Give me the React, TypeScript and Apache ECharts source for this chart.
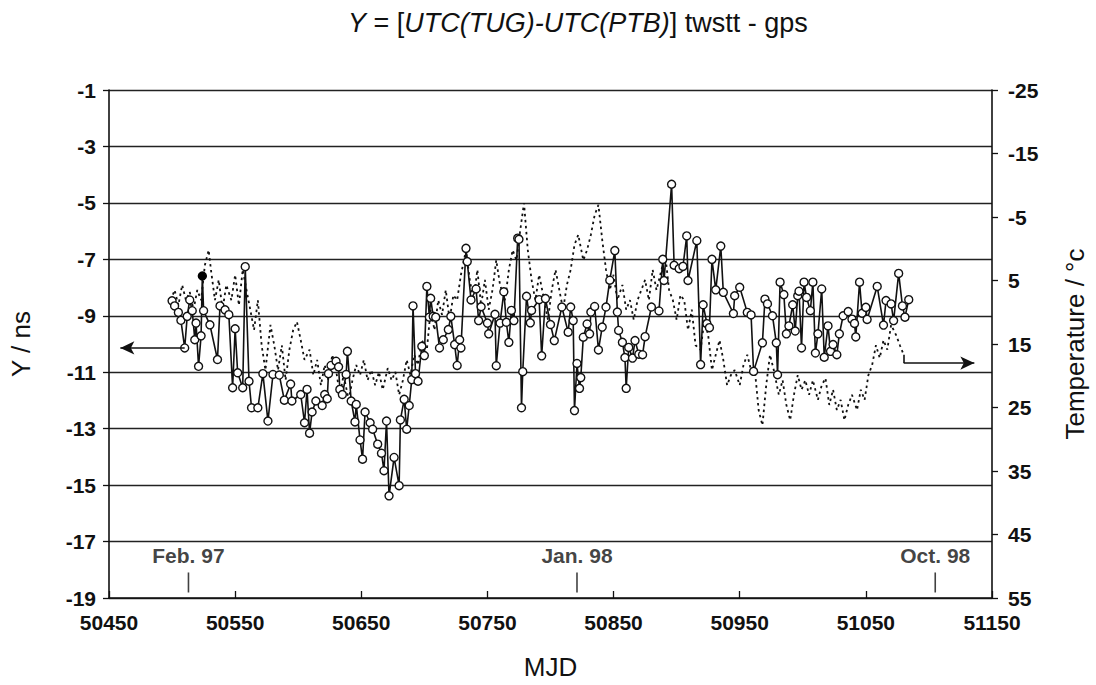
import React, { useEffect, useRef } from 'react';
import * as echarts from 'echarts';

// ---- axis ticks ----
const xTickValues = [50450, 50550, 50650, 50750, 50850, 50950, 51050, 51150];
const yTickValues = [-1, -3, -5, -7, -9, -11, -13, -15, -17, -19];
const tempTickValues = [-25, -15, -5, 5, 15, 25, 35, 45, 55];

// ---- Y = [UTC(TUG)-UTC(PTB)] twstt - gps (ns) ----
const mainMjd = [
  50500, 50502, 50505, 50507, 50510, 50512, 50514, 50516, 50518, 50519,
  50521, 50523, 50524, 50525, 50530, 50536, 50538, 50542, 50545, 50548,
  50550, 50552, 50556, 50558, 50561, 50563, 50568, 50572, 50576, 50580,
  50585, 50589, 50594, 50595, 50602, 50605, 50607, 50609, 50611, 50614,
  50619, 50621, 50623, 50624, 50626, 50630, 50632, 50633, 50635, 50638,
  50639, 50642, 50645, 50646, 50649, 50651, 50653, 50657, 50659, 50663,
  50666, 50668, 50670, 50672, 50676, 50680, 50681, 50684, 50686, 50688,
  50690, 50691, 50693, 50695, 50698, 50700, 50702, 50704, 50705, 50707,
  50709, 50712, 50715, 50719, 50721, 50724, 50726, 50728, 50729, 50733,
  50734, 50737, 50741, 50743, 50745, 50750, 50751, 50756, 50757, 50760,
  50763, 50765, 50767, 50769, 50771, 50774, 50775, 50777, 50778, 50781,
  50784, 50785, 50791, 50793, 50796, 50800, 50803, 50809, 50814, 50816,
  50818, 50819, 50821, 50823, 50824, 50826, 50829, 50831, 50832, 50835,
  50838, 50841, 50844, 50847, 50851, 50853, 50854, 50857, 50859, 50860,
  50862, 50865, 50867, 50870, 50873, 50875, 50880, 50886, 50889, 50890,
  50896, 50898, 50902, 50905, 50908, 50909, 50916, 50919, 50921, 50924,
  50926, 50928, 50931, 50935, 50937, 50945, 50946, 50950, 50956, 50959,
  50961, 50968, 50970, 50972, 50976, 50979, 50980, 50982, 50985, 50987,
  50989, 50992, 50994, 50996, 50997, 50999, 51001, 51003, 51006, 51008,
  51010, 51012, 51015, 51017, 51020, 51022, 51024, 51027, 51029, 51032,
  51036, 51039, 51041, 51042, 51045, 51047, 51050, 51051, 51059, 51064,
  51066, 51070, 51072, 51076, 51079, 51081, 51084,
];
const mainY = [
  -8.47, -8.65, -8.88, -9.16, -10.14, -9.02, -8.44, -8.82, -9.85, -9.26,
  -10.79, -9.71, -7.59, -8.82, -9.32, -10.55, -8.65, -8.79, -8.96, -11.55,
  -9.46, -11.02, -11.55, -7.26, -11.32, -12.26, -12.26, -11.05, -12.73, -11.08,
  -11.1, -11.99, -11.42, -12.02, -11.79, -12.79, -11.61, -13.16, -12.41, -12.02,
  -12.18, -11.79, -11.94, -11.05, -10.76, -10.61, -10.81, -11.61, -11.79, -11.08,
  -10.26, -12.02, -12.76, -12.14, -13.4, -14.08, -12.41, -12.79, -13.02, -13.55,
  -13.87, -14.49, -12.73, -15.38, -14.02, -15.02, -12.69, -11.96, -13.02, -12.18,
  -11.26, -8.65, -11.05, -11.32, -10.08, -10.41, -7.96, -9.05, -8.38, -9.02,
  -9.05, -10.14, -9.85, -9.49, -9.02, -10.02, -10.76, -9.85, -10.14, -6.61,
  -7.08, -8.44, -8.05, -9.17, -8.68, -9.26, -9.64, -8.95, -10.77, -9.26,
  -8.15, -9.23, -9.94, -8.81, -9.17, -6.25, -6.29, -12.26, -10.98, -8.31,
  -9.25, -8.81, -8.43, -10.42, -8.39, -9.31, -9.88, -8.69, -9.58, -8.69,
  -9.17, -12.36, -10.69, -11.57, -11.19, -9.76, -9.29, -9.64, -8.87, -8.67,
  -10.21, -9.4, -8.69, -7.74, -6.69, -8.87, -9.52, -9.94, -10.48, -11.57,
  -10.12, -10.5, -9.88, -10.36, -10.38, -9.74, -8.69, -8.83, -7.0, -7.75,
  -4.34, -7.21, -7.33, -7.25, -6.17, -7.75, -6.34, -10.73, -8.61, -9.28,
  -9.42, -7.0, -8.08, -6.53, -8.17, -8.92, -8.29, -7.99, -8.88, -8.97,
  -10.97, -9.96, -8.41, -8.58, -9.0, -9.96, -11.09, -7.81, -8.25, -9.64,
  -9.36, -8.61, -9.54, -8.29, -8.13, -10.14, -7.81, -8.35, -8.82, -7.81,
  -10.32, -9.64, -8.05, -10.47, -9.36, -10.26, -10.02, -10.38, -9.64, -9.0,
  -8.85, -9.12, -9.27, -9.75, -7.81, -8.91, -8.7, -9.13, -7.96, -9.33,
  -8.46, -8.58, -9.17, -7.5, -8.65, -9.05, -8.43,
];
const filledMjd = [50524];

// ---- Temperature (°C, right axis, inverted) ----
const tempMjd = [
  50499, 50502, 50505, 50508, 50511, 50514, 50517, 50520, 50523, 50526, 50529,
  50531, 50534, 50537, 50540, 50543, 50547, 50550, 50553, 50556, 50559,
  50562, 50565, 50568, 50571, 50574, 50578, 50581, 50584, 50587, 50590,
  50593, 50596, 50599, 50602, 50605, 50609, 50612, 50615, 50618, 50621,
  50624, 50627, 50630, 50633, 50636, 50640, 50643, 50646, 50649, 50652,
  50655, 50658, 50661, 50664, 50667, 50671, 50674, 50677, 50680, 50683,
  50686, 50689, 50692, 50695, 50698, 50702, 50705, 50708, 50711, 50714,
  50717, 50720, 50723, 50726, 50729, 50733, 50736, 50739, 50742, 50745,
  50748, 50751, 50754, 50757, 50760, 50764, 50767, 50770, 50773, 50776,
  50779, 50782, 50785, 50788, 50791, 50795, 50798, 50801, 50804, 50807,
  50810, 50813, 50816, 50819, 50822, 50826, 50829, 50832, 50835, 50838,
  50841, 50844, 50847, 50850, 50853, 50857, 50860, 50863, 50866, 50869,
  50872, 50875, 50878, 50881, 50884, 50888, 50891, 50894, 50897, 50900,
  50903, 50906, 50909, 50912, 50915, 50919, 50922, 50925, 50928, 50931,
  50934, 50937, 50940, 50943, 50946, 50950, 50953, 50956, 50959, 50962,
  50965, 50968, 50971, 50974, 50977, 50981, 50984, 50987, 50990, 50993,
  50996, 50999, 51002, 51005, 51008, 51012, 51015, 51018, 51021, 51024,
  51027, 51030, 51033, 51036, 51039, 51043, 51046, 51049, 51052, 51055,
  51058, 51061, 51064, 51067, 51070, 51074, 51077, 51080,
];
const tempC = [
  8.1, 6.5, 8.9, 5.7, 8.1, 6.8, 9.6, 6.5, 8.1, 2.6, 0.2,
  3.6, 8.1, 4.9, 9.6, 5.7, 8.1, 4.1, 8.9, 3.3, 6.5,
  9.6, 12.8, 8.1, 15.2, 19.1, 12.0, 15.2, 19.1, 15.2, 20.7,
  15.9, 12.8, 11.5, 14.4, 17.5, 15.9, 19.9, 17.5, 21.5, 18.3,
  20.7, 16.7, 19.1, 23.0, 19.9, 23.8, 20.7, 18.3, 19.9, 17.5,
  20.7, 19.1, 21.5, 19.4, 22.2, 18.8, 20.7, 19.4, 23.0, 20.7,
  17.5, 19.9, 16.7, 18.3, 14.4, 15.9, 9.6, 12.8, 8.1, 10.4,
  6.5, 11.2, 7.3, 8.1, 4.1, 0.2, 4.9, 8.1, 3.3, 8.9,
  4.9, 9.6, 6.5, 1.8, 5.7, 8.1, 3.3, 0.2, 1.8, -2.9,
  -7.2, 0.2, 4.9, 8.1, 4.1, 8.1, 11.2, 6.5, 3.3, 6.5,
  9.6, 5.7, 3.3, -0.6, -2.2, 1.8, 0.2, -2.2, -5.3, -6.9,
  -1.4, 3.3, 6.5, 4.1, 8.1, 5.7, 9.6, 8.1, 11.2, 8.1,
  6.5, 4.9, 8.1, 3.3, 6.5, 3.3, 1.0, 6.5, 8.1, 11.2,
  7.3, 8.1, 12.8, 9.6, 15.2, 15.9, 11.2, 13.6, 19.1, 16.7,
  14.4, 17.5, 21.5, 19.9, 19.1, 21.5, 18.3, 16.7, 19.1, 19.1,
  25.4, 27.8, 21.5, 16.7, 19.1, 23.0, 20.7, 24.6, 27.0, 23.0,
  19.9, 22.2, 20.7, 23.0, 20.7, 23.8, 21.5, 20.4, 24.6, 22.2,
  25.4, 23.8, 27.0, 24.6, 23.0, 25.4, 22.2, 23.8, 19.9, 18.3,
  15.2, 17.2, 14.4, 15.9, 12.0, 13.6, 15.2, 16.7,
];

// ---- date markers ----
const eventNames = ['Feb. 97', 'Jan. 98', 'Oct. 98'];
const eventMjd = [50513, 50821, 51105];
const eventLevel = -18.45;

// ---- arrows pointing each series to its axis ----
const leftArrowStartIndex = 4; // point the left arrow leaves from
const leftArrowEndMjd = 50459;
const rightArrowBendTemp = 18.0;
const rightArrowEndMjd = 51136;

const FONT = '"Liberation Sans", Arial, Helvetica, sans-serif';

export default function App() {
  const ref = useRef<HTMLDivElement>(null);

  useEffect(() => {
    document.body.style.margin = '0';
    const chart = echarts.init(ref.current!, null, { renderer: 'svg' });

    const mainData = mainMjd.map((m, i) => {
      const item: any = { value: [m, mainY[i]] };
      if (filledMjd.includes(m)) item.itemStyle = { color: '#000', borderColor: '#000' };
      return item;
    });
    const tempData = tempMjd.map((m, i) => [m, tempC[i]]);
    const lastT = tempData[tempData.length - 1];

    const tickLabel = { color: '#111', fontSize: 21, fontWeight: 'bold' as const, fontFamily: FONT };
    const axisLineStyle = { color: '#111', width: 1.6 };
    const nameStyle = { fontSize: 26, color: '#111', fontFamily: FONT };

    const option: any = {
      animation: false,
      backgroundColor: '#fff',
      textStyle: { fontFamily: FONT },
      title: {
        text: '{i|Y} = [{i|UTC(TUG)-UTC(PTB)}] twstt - gps',
        left: 343,
        top: 4,
        textStyle: {
          fontFamily: FONT,
          fontSize: 27,
          fontWeight: 'normal',
          color: '#111',
          rich: {
            i: { fontStyle: 'italic', fontSize: 27, fontFamily: FONT, color: '#111' },
          },
        },
      },
      grid: { left: 95.5, right: 98.5, top: 90, bottom: 87, containLabel: false },
      xAxis: [
        {
          type: 'value',
          min: 50450,
          max: 51150,
          position: 'bottom',
          name: 'MJD',
          nameLocation: 'middle',
          nameGap: 56,
          nameTextStyle: nameStyle,
          axisLine: { show: true, onZero: false, lineStyle: axisLineStyle },
          axisTick: { show: true, inside: true, length: 7, customValues: xTickValues, lineStyle: { color: '#111', width: 1.3 } },
          axisLabel: { ...tickLabel, margin: 14, customValues: xTickValues, formatter: (v: number) => String(v) },
          splitLine: { show: false },
        },
      ],
      yAxis: [
        {
          type: 'value',
          min: -19,
          max: -1,
          position: 'left',
          name: 'Y / ns',
          nameLocation: 'middle',
          nameGap: 75,
          nameTextStyle: nameStyle,
          axisLine: { show: true, onZero: false, lineStyle: axisLineStyle },
          axisTick: { show: true, length: 6, customValues: yTickValues, lineStyle: { color: '#111', width: 1.3 } },
          axisLabel: { ...tickLabel, margin: 13, customValues: yTickValues },
          splitLine: { show: true, lineStyle: { color: '#222', width: 1.3 } },
        },
        {
          type: 'value',
          min: -25,
          max: 55,
          inverse: true,
          position: 'right',
          name: 'Temperature / °c',
          nameLocation: 'middle',
          nameGap: 70,
          nameTextStyle: nameStyle,
          axisLine: { show: true, onZero: false, lineStyle: axisLineStyle },
          axisTick: { show: true, length: 6, customValues: tempTickValues, lineStyle: { color: '#111', width: 1.3 } },
          axisLabel: { ...tickLabel, margin: 16, customValues: tempTickValues },
          splitLine: { show: false },
        },
      ],
      series: [
        {
          name: 'Temperature',
          type: 'line',
          xAxisIndex: 0,
          yAxisIndex: 1,
          data: tempData,
          showSymbol: false,
          symbol: 'none',
          z: 2,
          lineStyle: { color: '#111', width: 1.8, type: [2.5, 3.5] },
          markLine: {
            silent: true,
            animation: false,
            label: { show: false },
            lineStyle: { color: '#111', width: 1.6, type: 'solid' },
            data: [
              [
                { coord: [lastT[0], lastT[1]], symbol: 'none' },
                { coord: [lastT[0], rightArrowBendTemp], symbol: 'none' },
              ],
              [
                { coord: [lastT[0], rightArrowBendTemp], symbol: 'none' },
                { coord: [rightArrowEndMjd, rightArrowBendTemp], symbol: 'arrow', symbolSize: [10, 14] },
              ],
            ],
          },
        },
        {
          name: 'Y',
          type: 'line',
          xAxisIndex: 0,
          yAxisIndex: 0,
          data: mainData,
          symbol: 'circle',
          symbolSize: 8,
          showAllSymbol: true,
          z: 3,
          lineStyle: { color: '#111', width: 1.6 },
          itemStyle: { color: '#fff', borderColor: '#111', borderWidth: 1.4 },
          markLine: {
            silent: true,
            animation: false,
            label: { show: false },
            lineStyle: { color: '#111', width: 1.6, type: 'solid' },
            data: [
              [
                { coord: [mainMjd[leftArrowStartIndex], mainY[leftArrowStartIndex]], symbol: 'none' },
                { coord: [leftArrowEndMjd, mainY[leftArrowStartIndex]], symbol: 'arrow', symbolSize: [10, 14] },
              ],
            ],
          },
        },
        {
          name: 'dates',
          type: 'scatter',
          xAxisIndex: 0,
          yAxisIndex: 0,
          data: eventMjd.map((m, i) => ({ value: [m, eventLevel], name: eventNames[i] })),
          symbol: 'rect',
          symbolSize: [1.6, 20],
          itemStyle: { color: '#111' },
          z: 4,
          label: {
            show: true,
            position: 'top',
            distance: 6,
            formatter: (p: any) => p.name,
            color: '#111',
            fontSize: 21,
            fontWeight: 'bold',
            fontFamily: FONT,
          },
        },
      ],
    };

    chart.setOption(option);
    return () => chart.dispose();
  }, []);

  return <div ref={ref} style={{ width: 1096, height: 685 }} />;
}
